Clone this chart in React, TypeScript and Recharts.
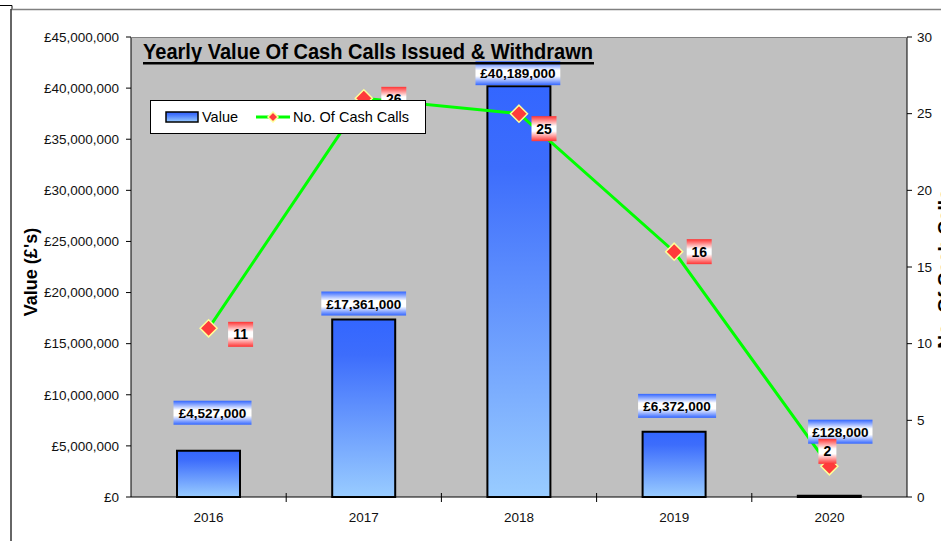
import React from 'react';
import { ComposedChart, Bar, Line, XAxis, YAxis, CartesianGrid, LabelList } from 'recharts';

const years = ['2016', '2017', '2018', '2019', '2020'];
const cashValues = [4527000, 17361000, 40189000, 6372000, 128000];
const cashCalls = [11, 26, 25, 16, 2];
const leftTicks = [0, 5000000, 10000000, 15000000, 20000000, 25000000, 30000000, 35000000, 40000000, 45000000];
const rightTicks = [0, 5, 10, 15, 20, 25, 30];

const data = years.map((year, i) => ({ year, value: cashValues[i], calls: cashCalls[i] }));

// label placement tweaks (style only)
const barLabelShift = [[4, -38], [0, -16], [-1, -13], [3, -26], [11, -64]];
const lineLabelShift = [[32, 6], [30, 1], [25, 15], [25, 0], [-2, -15]];

const FONT = "Arial, 'Liberation Sans', sans-serif";
const fmtMoney = (v: number) => '£' + Math.round(v).toString().replace(/\B(?=(\d{3})+(?!\d))/g, ',');

const BarLabel = (props: any) => {
  const { x, y, width, value, index } = props;
  const [dx, dy] = barLabelShift[index] || [0, -14];
  const text = fmtMoney(value);
  const w = text.length * 6.8 + 10;
  const h = 24;
  const cx = x + width / 2 + dx;
  const cy = y + dy;
  return (
    <g>
      <rect x={cx - w / 2} y={cy - h / 2} width={w} height={h} fill="url(#blueLabelGrad)" />
      <text x={cx} y={cy + 5} textAnchor="middle" fontFamily={FONT} fontWeight="bold" fontSize={13.5} fill="#000">
        {text}
      </text>
    </g>
  );
};

const LineLabel = (props: any) => {
  const { x, y, value, index } = props;
  const [dx, dy] = lineLabelShift[index] || [25, 0];
  const text = String(value);
  const w = text.length * 7 + 11;
  const h = 25;
  const cx = x + dx;
  const cy = y + dy;
  return (
    <g>
      <rect x={cx - w / 2} y={cy - h / 2} width={w} height={h} fill="url(#redLabelGrad)" />
      <text x={cx} y={cy + 5} textAnchor="middle" fontFamily={FONT} fontWeight="bold" fontSize={14} fill="#000">
        {text}
      </text>
    </g>
  );
};

const Diamond = (props: any) => {
  const { cx, cy, index } = props;
  if (cx == null || cy == null) return <g key={'d' + index} />;
  const r = 8.5;
  return (
    <path
      key={'d' + index}
      d={`M${cx},${cy - r} L${cx + r},${cy} L${cx},${cy + r} L${cx - r},${cy} Z`}
      fill="#FF3B3B"
      stroke="#FFFF99"
      strokeWidth={1.5}
    />
  );
};

const XTick = (props: any) => {
  const { x, y, payload, index } = props;
  const off = payload && payload.offset ? payload.offset : 77.6;
  return (
    <g>
      <text x={x} y={y + 25} textAnchor="middle" fontFamily={FONT} fontSize={13.5} fill="#111">
        {payload.value}
      </text>
      {index > 0 && <line x1={x - off} x2={x - off} y1={y - 4} y2={y + 5} stroke="#000" strokeWidth={1} />}
    </g>
  );
};

export default function App() {
  return (
    <div style={{ position: 'absolute', left: 0, top: 0, width: 941, height: 541, overflow: 'hidden', background: '#fff' }}>
      <svg width={0} height={0} style={{ position: 'absolute' }}>
        <defs>
          <linearGradient id="barGrad" x1="0" y1="0" x2="0" y2="1">
            <stop offset="0" stopColor="#3366FF" />
            <stop offset="0.2" stopColor="#3D6DFC" />
            <stop offset="1" stopColor="#99CCFF" />
          </linearGradient>
          <linearGradient id="blueLabelGrad" x1="0" y1="0" x2="0" y2="1">
            <stop offset="0" stopColor="#3366FF" />
            <stop offset="0.38" stopColor="#FFFFFF" />
            <stop offset="0.62" stopColor="#FFFFFF" />
            <stop offset="1" stopColor="#3366FF" />
          </linearGradient>
          <linearGradient id="redLabelGrad" x1="0" y1="0" x2="0" y2="1">
            <stop offset="0" stopColor="#FF3333" />
            <stop offset="0.4" stopColor="#FFFFFF" />
            <stop offset="0.6" stopColor="#FFFFFF" />
            <stop offset="1" stopColor="#FF3333" />
          </linearGradient>
        </defs>
      </svg>
      <ComposedChart width={941} height={541} data={data} margin={{ top: 37, right: 0, bottom: 0, left: 0 }}>
        <CartesianGrid horizontal={false} vertical={false} fill="#C0C0C0" stroke="none" yAxisId="left" />
        <XAxis
          dataKey="year"
          height={44}
          axisLine={{ stroke: '#000', strokeWidth: 1 }}
          tickLine={false}
          tickSize={0}
          tickMargin={0}
          tick={<XTick />}
          interval={0}
        />
        <YAxis
          yAxisId="left"
          width={131}
          domain={[0, 45000000]}
          ticks={leftTicks}
          interval={0}
          tickFormatter={fmtMoney}
          axisLine={{ stroke: '#000', strokeWidth: 1 }}
          tickLine={{ stroke: '#000' }}
          tickSize={5}
          tickMargin={7}
          tick={{ fontFamily: FONT, fontSize: 13.5, fill: '#111' }}
        />
        <YAxis
          yAxisId="right"
          orientation="right"
          width={34}
          domain={[0, 30]}
          ticks={rightTicks}
          interval={0}
          axisLine={{ stroke: '#000', strokeWidth: 1 }}
          tickLine={{ stroke: '#000' }}
          tickSize={5}
          tickMargin={5}
          tick={{ fontFamily: FONT, fontSize: 13.5, fill: '#111', textAnchor: 'start' }}
        />
        <Bar yAxisId="left" dataKey="value" barSize={63} fill="url(#barGrad)" stroke="#000" strokeWidth={2} isAnimationActive={false}>
          <LabelList dataKey="value" content={<BarLabel />} />
        </Bar>
        <Line
          yAxisId="right"
          type="linear"
          dataKey="calls"
          stroke="#00FF00"
          strokeWidth={3}
          dot={(p: any) => <Diamond {...p} />}
          activeDot={false}
          isAnimationActive={false}
        >
          <LabelList dataKey="calls" content={<LineLabel />} />
        </Line>
      </ComposedChart>
      <svg width={941} height={541} style={{ position: 'absolute', left: 0, top: 0, pointerEvents: 'none' }}>
        {/* frame */}
        <path d="M0,5.5 L12,5.5 L12,9" stroke="#000" strokeWidth={1} fill="none" />
        <line x1={11} y1={9.5} x2={941} y2={9.5} stroke="#808080" strokeWidth={1.5} />
        <line x1={11} y1={9} x2={11} y2={541} stroke="#333" strokeWidth={1.5} />
        <line x1={131} y1={37.5} x2={907} y2={37.5} stroke="#808080" strokeWidth={1} />
        {/* title */}
        <text x={143} y={59} fontFamily={FONT} fontWeight="bold" fontSize={22} textLength={450} lengthAdjust="spacingAndGlyphs" fill="#000">
          Yearly Value Of Cash Calls Issued &amp; Withdrawn
        </text>
        <rect x={143} y={62} width={451} height={2.5} fill="#000" />
        {/* axis titles */}
        <text
          x={0}
          y={0}
          transform="translate(37,272) rotate(-90)"
          textAnchor="middle"
          fontFamily={FONT}
          fontWeight="bold"
          fontSize={18}
          fill="#000"
        >
          Value (£'s)
        </text>
        <text
          x={0}
          y={0}
          transform="translate(951,269) rotate(-90)"
          textAnchor="middle"
          fontFamily={FONT}
          fontWeight="bold"
          fontSize={19}
          fill="#000"
        >
          No. Of Cash Calls
        </text>
        {/* legend */}
        <rect x={150.5} y={100.5} width={275} height={33} fill="#fff" stroke="#000" strokeWidth={1} />
        <rect x={166} y={112} width={32} height={10} fill="url(#barGrad)" stroke="#000" strokeWidth={1.5} />
        <text x={202} y={122} fontFamily={FONT} fontSize={14.5} fill="#000">Value</text>
        <line x1={256} y1={117} x2={290} y2={117} stroke="#00FF00" strokeWidth={3} />
        <path d="M273,112 L278,117 L273,122 L268,117 Z" fill="#FF3B3B" stroke="#FFFF99" strokeWidth={1.5} />
        <text x={293} y={122} fontFamily={FONT} fontSize={14.5} fill="#000">No. Of Cash Calls</text>
      </svg>
    </div>
  );
}
